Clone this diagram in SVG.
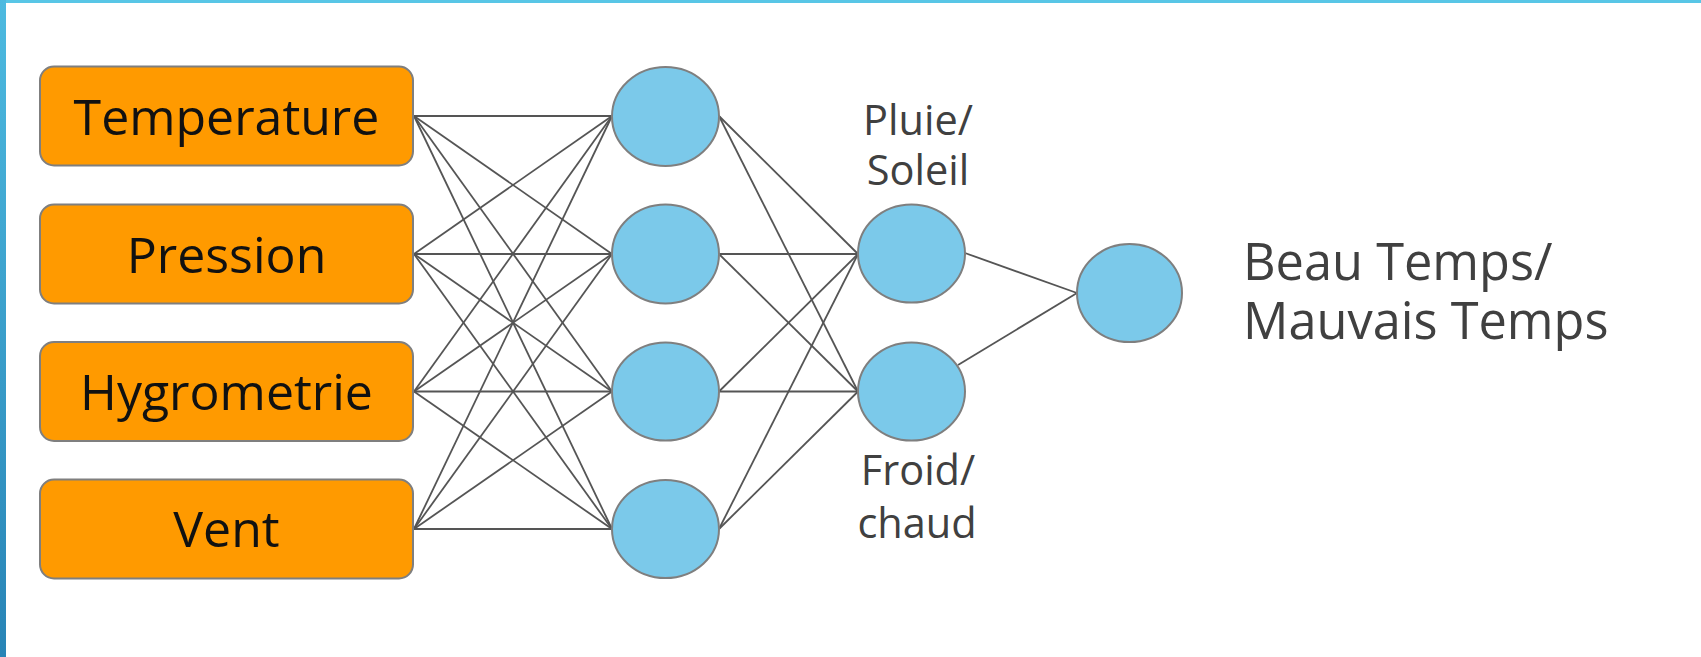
<svg xmlns="http://www.w3.org/2000/svg" width="1701" height="657" viewBox="0 0 1701 657">
  <style>
    .box { fill: #FF9A00; stroke: #7F7F7F; stroke-width: 2; }
    .neuron { fill: #7BC9EA; stroke: #7F7F7F; stroke-width: 2; }
    .edge { stroke: #555555; stroke-width: 1.8; fill: none; }
    .in-label { font-family: "Open Sans", "Noto Sans", sans-serif; font-weight: 380; font-size: 50px; fill: #111111; text-anchor: middle; }
    .mid-label { font-family: "Open Sans", "Noto Sans", sans-serif; font-weight: 380; font-size: 41.5px; fill: #404040; text-anchor: middle; }
    .out-label { font-family: "Open Sans", "Noto Sans", sans-serif; font-weight: 380; font-size: 50.5px; fill: #404040; }
  </style>
  <defs>
    <linearGradient id="sideBar" x1="0" y1="0" x2="0" y2="1">
      <stop offset="0" stop-color="#4DBAE0"/>
      <stop offset="1" stop-color="#2884B6"/>
    </linearGradient>
  </defs>

  <!-- page background and frame bars -->
  <rect x="0" y="0" width="1701" height="657" fill="#FFFFFF"/>
  <rect x="0" y="0" width="1701" height="3" fill="#58C6E6"/>
  <rect x="0" y="0" width="6" height="657" fill="url(#sideBar)"/>

  <!-- connectors: inputs -> hidden layer -> two outputs -> final neuron -->
  <g id="connectors">
    <!-- from each input box (right edge x=414) to each hidden neuron (left edge x=612) -->
    <line class="edge" x1="414" y1="116" x2="612" y2="116"/>
    <line class="edge" x1="414" y1="116" x2="612" y2="254"/>
    <line class="edge" x1="414" y1="116" x2="612" y2="391.5"/>
    <line class="edge" x1="414" y1="116" x2="612" y2="529"/>
    <line class="edge" x1="414" y1="254" x2="612" y2="116"/>
    <line class="edge" x1="414" y1="254" x2="612" y2="254"/>
    <line class="edge" x1="414" y1="254" x2="612" y2="391.5"/>
    <line class="edge" x1="414" y1="254" x2="612" y2="529"/>
    <line class="edge" x1="414" y1="391.5" x2="612" y2="116"/>
    <line class="edge" x1="414" y1="391.5" x2="612" y2="254"/>
    <line class="edge" x1="414" y1="391.5" x2="612" y2="391.5"/>
    <line class="edge" x1="414" y1="391.5" x2="612" y2="529"/>
    <line class="edge" x1="414" y1="529" x2="612" y2="116"/>
    <line class="edge" x1="414" y1="529" x2="612" y2="254"/>
    <line class="edge" x1="414" y1="529" x2="612" y2="391.5"/>
    <line class="edge" x1="414" y1="529" x2="612" y2="529"/>
    <!-- hidden layer (right edge x=719) to the two output neurons (left edge x=858) -->
    <line class="edge" x1="719" y1="116" x2="858" y2="254"/>
    <line class="edge" x1="719" y1="116" x2="858" y2="391.5"/>
    <line class="edge" x1="719" y1="254" x2="858" y2="254"/>
    <line class="edge" x1="719" y1="254" x2="858" y2="391.5"/>
    <line class="edge" x1="719" y1="391.5" x2="858" y2="254"/>
    <line class="edge" x1="719" y1="391.5" x2="858" y2="391.5"/>
    <line class="edge" x1="719" y1="529" x2="858" y2="254"/>
    <line class="edge" x1="719" y1="529" x2="858" y2="391.5"/>
    <!-- outputs to final neuron -->
    <line class="edge" x1="965" y1="253" x2="1077" y2="293"/>
    <line class="edge" x1="958" y1="365" x2="1077" y2="293"/>
  </g>

  <!-- input boxes -->
  <g id="in-temperature">
    <rect class="box" x="40" y="66.5" width="373" height="99" rx="14"/>
    <text class="in-label" x="226.5" y="134.5">Temperature</text>
  </g>
  <g id="in-pression">
    <rect class="box" x="40" y="204.5" width="373" height="99" rx="14"/>
    <text class="in-label" x="226.5" y="272.5">Pression</text>
  </g>
  <g id="in-hygrometrie">
    <rect class="box" x="40" y="342" width="373" height="99" rx="14"/>
    <text class="in-label" x="226.5" y="409.5">Hygrometrie</text>
  </g>
  <g id="in-vent">
    <rect class="box" x="40" y="479.5" width="373" height="99" rx="14"/>
    <text class="in-label" x="226.5" y="546.5">Vent</text>
  </g>

  <!-- hidden layer -->
  <g id="hidden-1"><ellipse class="neuron" cx="665.5" cy="116.5" rx="53.5" ry="49.5"/></g>
  <g id="hidden-2"><ellipse class="neuron" cx="665.5" cy="254" rx="53.5" ry="49.5"/></g>
  <g id="hidden-3"><ellipse class="neuron" cx="665.5" cy="391.5" rx="53.5" ry="49"/></g>
  <g id="hidden-4"><ellipse class="neuron" cx="665.5" cy="529" rx="53.5" ry="49"/></g>

  <!-- intermediate outputs -->
  <g id="out-pluie-soleil">
    <ellipse class="neuron" cx="911.5" cy="253.5" rx="53.5" ry="49"/>
    <text class="mid-label" x="918" y="135">Pluie/</text>
    <text class="mid-label" x="918" y="185">Soleil</text>
  </g>
  <g id="out-froid-chaud">
    <ellipse class="neuron" cx="911.5" cy="391.5" rx="53.5" ry="49"/>
    <text class="mid-label" x="918" y="485">Froid/</text>
    <text class="mid-label" x="917" y="538">chaud</text>
  </g>

  <!-- final decision -->
  <g id="final-beau-mauvais">
    <ellipse class="neuron" cx="1129.5" cy="293" rx="52.5" ry="49"/>
    <text class="out-label" x="1243" y="280">Beau Temps/</text>
    <text class="out-label" x="1243" y="339">Mauvais Temps</text>
  </g>
</svg>
